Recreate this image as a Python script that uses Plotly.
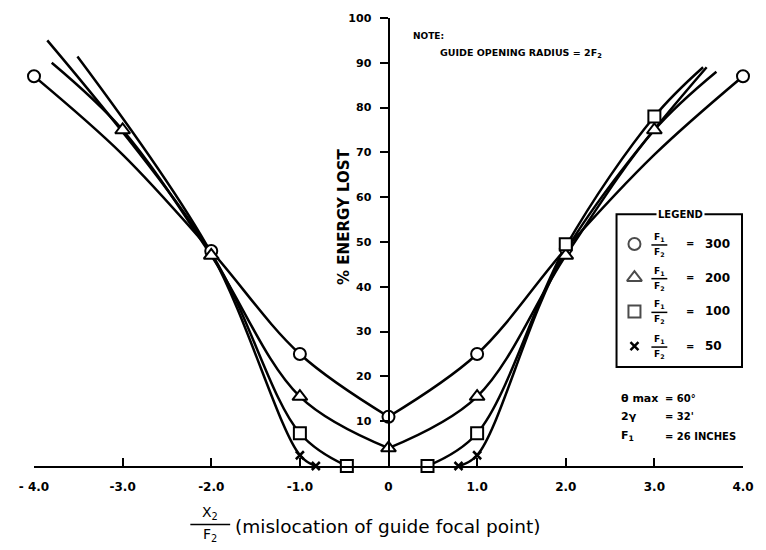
import plotly.graph_objects as go

# F1/F2 ratios shown in the legend
ratios = [300, 200, 100, 50]

# Curve points (x2/f2, % energy lost), each curve split at the centre
c300_left_x = [-4.0, -3.0, -2.0, -1.0, 0.0]
c300_left_y = [87, 69.5, 48, 25, 11]
c300_right_x = [0.0, 1.0, 2.0, 3.0, 4.0]
c300_right_y = [11, 25, 48.5, 69.5, 87]

c200_left_x = [-3.8, -3.0, -2.0, -1.0, 0.0]
c200_left_y = [90, 75, 47, 15.5, 4]
c200_right_x = [0.0, 1.0, 2.0, 3.0, 3.7]
c200_right_y = [4, 15.5, 47, 75, 88]

c100_left_x = [-3.85, -2.0, -1.0, -0.47]
c100_left_y = [95, 47.5, 7.3, 0]
c100_right_x = [0.44, 1.0, 2.0, 3.0, 3.55]
c100_right_y = [0, 7.3, 49, 78, 89]

c50_left_x = [-3.51, -2.0, -1.0, -0.82]
c50_left_y = [91.4, 47.5, 2.4, 0]
c50_right_x = [0.79, 1.0, 2.0, 3.59]
c50_right_y = [0, 2.4, 48, 89]

# Measured points
m300_x = [-4, -2, -1, 0, 1, 2, 4]
m300_y = [87, 48, 25, 11, 25, 48.5, 87]
m200_x = [-3, -2, -1, 0, 1, 2, 3]
m200_y = [75, 47, 15.5, 4, 15.5, 47, 75]
m100_x = [-1, -0.47, 0.44, 1, 2, 3]
m100_y = [7.3, 0, 0, 7.3, 49.5, 78]
m50_x = [-1, -0.82, 0.79, 1.0]
m50_y = [2.4, 0, 0, 2.4]

x_ticks = [-4, -3, -2, -1, 0, 1, 2, 3, 4]
x_tick_text = ["- 4.0", "-3.0", "-2.0", "-1.0", "0", "1.0", "2.0", "3.0", "4.0"]
y_ticks = [10, 20, 30, 40, 50, 60, 70, 80, 90, 100]
y_tick_text = [str(v) for v in y_ticks]

W, H = 766, 550
ML, MR, MT, MB = 34, 20, 14, 84
FONT = "DejaVu Sans"
INK = "black"
LW = 2.5


def px(xp):
    return (xp - ML) / (W - ML - MR)


def py(yp):
    return (H - MB - yp) / (H - MT - MB)


marker_styles = {
    300: dict(symbol="circle", size=12, color="white", line=dict(color=INK, width=2)),
    200: dict(symbol="triangle-up", size=13, color="white", line=dict(color=INK, width=2)),
    100: dict(symbol="square", size=12, color="white", line=dict(color=INK, width=2)),
    50: dict(symbol="x-thin", size=8, color=INK, line=dict(color=INK, width=2.5)),
}

fig = go.Figure()

curves = [
    (c300_left_x, c300_left_y), (c300_right_x, c300_right_y),
    (c200_left_x, c200_left_y), (c200_right_x, c200_right_y),
    (c100_left_x, c100_left_y), (c100_right_x, c100_right_y),
    (c50_left_x, c50_left_y), (c50_right_x, c50_right_y),
]
for cx, cy in curves:
    fig.add_trace(go.Scatter(
        x=cx, y=cy, mode="lines",
        line=dict(color=INK, width=LW, shape="spline", smoothing=1.0),
        showlegend=False, hoverinfo="skip", cliponaxis=False,
    ))

points = [(300, m300_x, m300_y), (200, m200_x, m200_y),
          (100, m100_x, m100_y), (50, m50_x, m50_y)]
for r, mx, my in points:
    fig.add_trace(go.Scatter(
        x=mx, y=my, mode="markers", marker=marker_styles[r],
        showlegend=False, cliponaxis=False,
    ))

# Legend symbols on an overlay axis spanning the plot area in paper units
legend_rows = [242, 276, 310, 345]
fig.add_trace(go.Scatter(
    x=[px(637)] * 3, y=[py(v) for v in legend_rows[:3]],
    mode="markers", xaxis="x2", yaxis="y2", showlegend=False, cliponaxis=False,
    marker=dict(symbol=["circle", "triangle-up", "square"], size=[12, 13, 12],
                color="white", line=dict(color=INK, width=2)),
))
fig.add_trace(go.Scatter(
    x=[px(637)], y=[py(legend_rows[3])],
    mode="markers", xaxis="x2", yaxis="y2", showlegend=False, cliponaxis=False,
    marker=marker_styles[50],
))

annotations = []
shapes = []


def label(xp, yp, text, size, xanchor="center", yanchor="middle", **kw):
    annotations.append(dict(xref="paper", yref="paper", x=px(xp), y=py(yp),
                            text=text, showarrow=False,
                            xanchor=xanchor, yanchor=yanchor,
                            font=dict(family=FONT, size=size, color=INK), **kw))


def fraction(xc, yline, num, den, size, half_width, bold=True):
    """Stacked fraction: numerator above a rule, denominator below it."""
    wrap = (lambda s: "<b>%s</b>" % s) if bold else (lambda s: s)
    label(xc, yline - 1, wrap(num), size, yanchor="bottom", borderpad=0)
    label(xc, yline + 1, wrap(den), size, yanchor="top", borderpad=0)
    shapes.append(dict(type="line", xref="paper", yref="paper",
                       x0=px(xc - half_width), x1=px(xc + half_width),
                       y0=py(yline), y1=py(yline),
                       line=dict(color=INK, width=1.5)))


# Legend box
shapes.append(dict(type="rect", xref="paper", yref="paper",
                   x0=px(619), x1=px(745), y0=py(366), y1=py(212),
                   line=dict(color=INK, width=2), fillcolor="rgba(0,0,0,0)"))
label(683, 212, "<b>LEGEND</b>", 10, bgcolor="white", borderpad=1)
for row, r in zip(legend_rows, ratios):
    fraction(662, row + 1, "F<sub>1</sub>", "F<sub>2</sub>", 9, 8)
    label(687, row, "<b>=</b>", 10, xanchor="left")
    label(706, row, "<b>%d</b>" % r, 12, xanchor="left")

# Note at the top
label(413, 32, "<b>NOTE:</b>", 9, xanchor="left")
label(440, 50, "<b>GUIDE OPENING RADIUS = 2F<sub>2</sub></b>", 9.5, xanchor="left")

# Parameter block
params = [(398, "<b>θ max</b>", "<b>= 60°</b>"),
          (416, "<b>2γ</b>", "<b>= 32'</b>"),
          (436, "<b>F<sub>1</sub></b>", "<b>= 26 INCHES</b>")]
for yy, left, right in params:
    label(621, yy, left, 11, xanchor="left")
    label(666, yy, right, 10, xanchor="left")

# Y-axis title
label(346, 215, "<b>% ENERGY LOST</b>", 15, textangle=-90)

# X-axis title: X2/F2 fraction followed by description
fraction(211, 525, "X<sub>2</sub>", "F<sub>2</sub>", 14, 20, bold=False)
label(234, 527, "(mislocation of guide focal point)", 18.5, xanchor="left")

fig.update_layout(
    width=W, height=H,
    margin=dict(l=ML, r=MR, t=MT, b=MB, pad=0),
    paper_bgcolor="white", plot_bgcolor="white",
    showlegend=False,
    xaxis=dict(range=[-4, 4], tickvals=x_ticks, ticktext=x_tick_text,
               showline=True, linecolor=INK, linewidth=2,
               ticks="inside", ticklen=8, tickwidth=2, tickcolor=INK,
               ticklabelstandoff=9,
               showgrid=False, zeroline=False,
               tickfont=dict(family=FONT, size=12, color=INK, weight="bold")),
    yaxis=dict(range=[0, 100], tickvals=y_ticks, ticktext=y_tick_text,
               anchor="free", position=0.5,
               showline=True, linecolor=INK, linewidth=2,
               ticks="outside", ticklen=8, tickwidth=2, tickcolor=INK,
               ticklabelstandoff=6,
               showgrid=False, zeroline=False,
               tickfont=dict(family=FONT, size=11, color=INK, weight="bold")),
    xaxis2=dict(range=[0, 1], overlaying="x", visible=False, domain=[0, 1]),
    yaxis2=dict(range=[0, 1], overlaying="y", visible=False, domain=[0, 1]),
    annotations=annotations,
    shapes=shapes,
)

fig.write_html("out.html")
